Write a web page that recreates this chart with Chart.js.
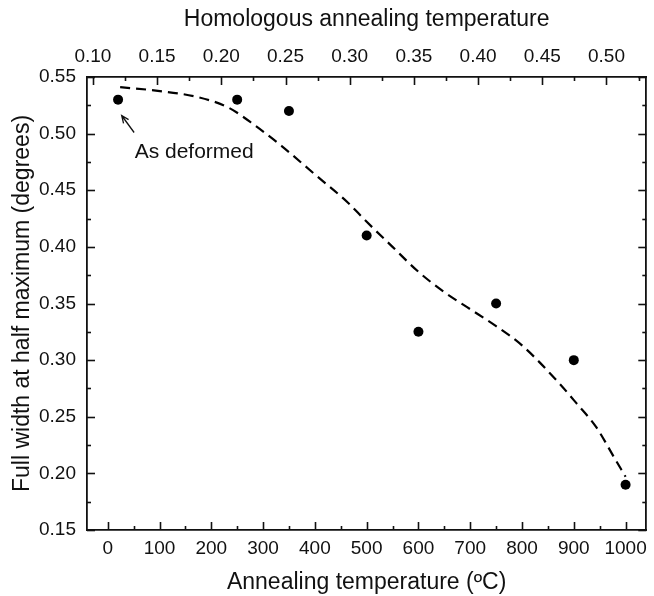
<!DOCTYPE html>
<html>
<head>
<meta charset="utf-8">
<title>FWHM vs annealing temperature</title>
<script src="https://cdn.jsdelivr.net/npm/chart.js@4.4.1/dist/chart.umd.min.js"></script>
<style>
  html, body { margin: 0; padding: 0; background: #fff; }
  #wrap { width: 654px; height: 596px; }
</style>
</head>
<body>
<div id="wrap"><canvas id="chart"></canvas></div>
<script>
// measured peak widths
const tempC = [20, 250, 350, 500, 600, 750, 900, 1000];
const fwhm = [0.53, 0.53, 0.52, 0.41, 0.325, 0.35, 0.30, 0.19];

// guide-to-the-eye fit
const fitT = [24, 93, 176, 233, 285, 336, 400, 464, 496, 550, 600, 650, 700, 750, 800, 871, 905, 943, 978, 1000];
const fitFwhm = [0.541, 0.538, 0.532, 0.523, 0.507, 0.489, 0.464, 0.439, 0.424, 0.400, 0.378, 0.360, 0.345, 0.330, 0.313, 0.280, 0.262, 0.241, 0.214, 0.197];

// axis ticks
const tempTicks = [0, 100, 200, 300, 400, 500, 600, 700, 800, 900, 1000];
const tempMinor = [50, 150, 250, 350, 450, 550, 650, 750, 850, 950];
const homTicks = [0.10, 0.15, 0.20, 0.25, 0.30, 0.35, 0.40, 0.45, 0.50];
const homMinor = [0.125, 0.175, 0.225, 0.275, 0.325, 0.375, 0.425, 0.475, 0.525];
const fwhmTicks = [0.15, 0.20, 0.25, 0.30, 0.35, 0.40, 0.45, 0.50, 0.55];
const fwhmMinor = [0.175, 0.225, 0.275, 0.325, 0.375, 0.425, 0.475, 0.525];

// "As deformed" note, in data units
const noteText = 'As deformed';
const notePos = { x: 52, y: 0.4835 };
const arrowFrom = { x: 51, y: 0.501 };
const arrowTo = { x: 27, y: 0.516 };

const FONT = 'Liberation Sans, Arial, Helvetica, sans-serif';
const INK = '#111';

const setTicks = (values) => (scale) => {
  scale.ticks = values.map((value) => ({ value }));
};

// Origin-style inward tick marks on all four sides
const frameTicks = {
  id: 'frameTicks',
  afterDatasetsDraw(chart) {
    const { ctx, chartArea: a, scales } = chart;
    ctx.save();
    ctx.strokeStyle = INK;
    ctx.lineWidth = 1.6;
    const seg = (x1, y1, x2, y2) => {
      ctx.beginPath();
      ctx.moveTo(x1, y1);
      ctx.lineTo(x2, y2);
      ctx.stroke();
    };
    const horiz = (scale, values, len, edge, dir) => values.forEach((v) => {
      const px = Math.round(scale.getPixelForValue(v)) + 0.5;
      seg(px, edge, px, edge + dir * len);
    });
    const vert = (scale, values, len, edge, dir) => values.forEach((v) => {
      const py = Math.round(scale.getPixelForValue(v)) + 0.5;
      seg(edge, py, edge + dir * len, py);
    });
    horiz(scales.x, tempTicks, 8, a.bottom, -1);
    horiz(scales.x, tempMinor, 4, a.bottom, -1);
    horiz(scales.x2, homTicks, 8, a.top, 1);
    horiz(scales.x2, homMinor, 4, a.top, 1);
    vert(scales.y, fwhmTicks, 8, a.left, 1);
    vert(scales.y, fwhmMinor, 4, a.left, 1);
    vert(scales.y, fwhmTicks, 8, a.right, -1);
    vert(scales.y, fwhmMinor, 4, a.right, -1);
    ctx.restore();
  },
};

const deformedNote = {
  id: 'deformedNote',
  afterDatasetsDraw(chart) {
    const { ctx, scales: { x, y } } = chart;
    const x1 = x.getPixelForValue(arrowFrom.x);
    const y1 = y.getPixelForValue(arrowFrom.y);
    const x2 = x.getPixelForValue(arrowTo.x);
    const y2 = y.getPixelForValue(arrowTo.y);
    const ang = Math.atan2(y2 - y1, x2 - x1);
    ctx.save();
    ctx.strokeStyle = INK;
    ctx.lineWidth = 1.3;
    ctx.beginPath();
    ctx.moveTo(x1, y1);
    ctx.lineTo(x2, y2);
    ctx.moveTo(x2 - 8 * Math.cos(ang - 0.4), y2 - 8 * Math.sin(ang - 0.4));
    ctx.lineTo(x2, y2);
    ctx.lineTo(x2 - 8 * Math.cos(ang + 0.4), y2 - 8 * Math.sin(ang + 0.4));
    ctx.stroke();
    ctx.fillStyle = INK;
    ctx.font = '21px ' + FONT;
    ctx.textAlign = 'left';
    ctx.textBaseline = 'middle';
    ctx.fillText(noteText, x.getPixelForValue(notePos.x), y.getPixelForValue(notePos.y));
    ctx.restore();
  },
};

const border = { display: true, color: INK, width: 1.8 };
const tickFont = { family: FONT, size: 19 };
const titleFont = { family: FONT, size: 23 };

new Chart(document.getElementById('chart'), {
  type: 'scatter',
  data: {
    datasets: [
      {
        label: 'FWHM',
        data: tempC.map((t, i) => ({ x: t, y: fwhm[i] })),
        pointRadius: 5,
        pointBackgroundColor: '#000',
        pointBorderColor: '#000',
        pointBorderWidth: 0,
        showLine: false,
      },
      {
        label: 'Fit',
        data: fitT.map((t, i) => ({ x: t, y: fitFwhm[i] })),
        showLine: true,
        pointRadius: 0,
        borderColor: '#000',
        borderWidth: 2.2,
        borderDash: [10, 6],
        tension: 0.4,
        cubicInterpolationMode: 'monotone',
      },
    ],
  },
  options: {
    responsive: true,
    maintainAspectRatio: false,
    animation: false,
    layout: { padding: 0 },
    plugins: {
      legend: { display: false },
      tooltip: { enabled: false },
    },
    scales: {
      x: {
        type: 'linear',
        position: 'bottom',
        min: -40,
        max: 1040,
        afterBuildTicks: setTicks(tempTicks),
        afterFit: (s) => { s.height = 66; },
        grid: { display: false, drawTicks: false },
        border,
        ticks: { color: INK, font: tickFont, padding: 7, maxRotation: 0, callback: (v) => String(v) },
        title: { display: true, text: 'Annealing temperature (ºC)', color: INK, font: titleFont, padding: 0 },
      },
      x2: {
        type: 'linear',
        position: 'top',
        min: 0.0954,
        max: 0.531,
        afterBuildTicks: setTicks(homTicks),
        afterFit: (s) => { s.height = 77; },
        grid: { display: false, drawTicks: false },
        border,
        ticks: { color: INK, font: tickFont, padding: 9, maxRotation: 0, callback: (v) => v.toFixed(2) },
        title: { display: true, text: 'Homologous annealing temperature', color: INK, font: titleFont, padding: { top: 6, bottom: 0 } },
      },
      y: {
        type: 'linear',
        position: 'left',
        min: 0.15,
        max: 0.55,
        afterBuildTicks: setTicks(fwhmTicks),
        afterFit: (s) => { s.width = 87; },
        grid: { display: false, drawTicks: false },
        border,
        ticks: { color: INK, font: tickFont, padding: 11, callback: (v) => v.toFixed(2) },
        title: { display: true, text: 'Full width at half maximum (degrees)', color: INK, font: titleFont, padding: { top: 9, bottom: 0 } },
      },
      y2: {
        type: 'linear',
        position: 'right',
        min: 0.15,
        max: 0.55,
        afterFit: (s) => { s.width = 3; },
        grid: { display: false, drawTicks: false },
        border,
        ticks: { display: false },
      },
    },
  },
  plugins: [frameTicks, deformedNote],
});
</script>
</body>
</html>
